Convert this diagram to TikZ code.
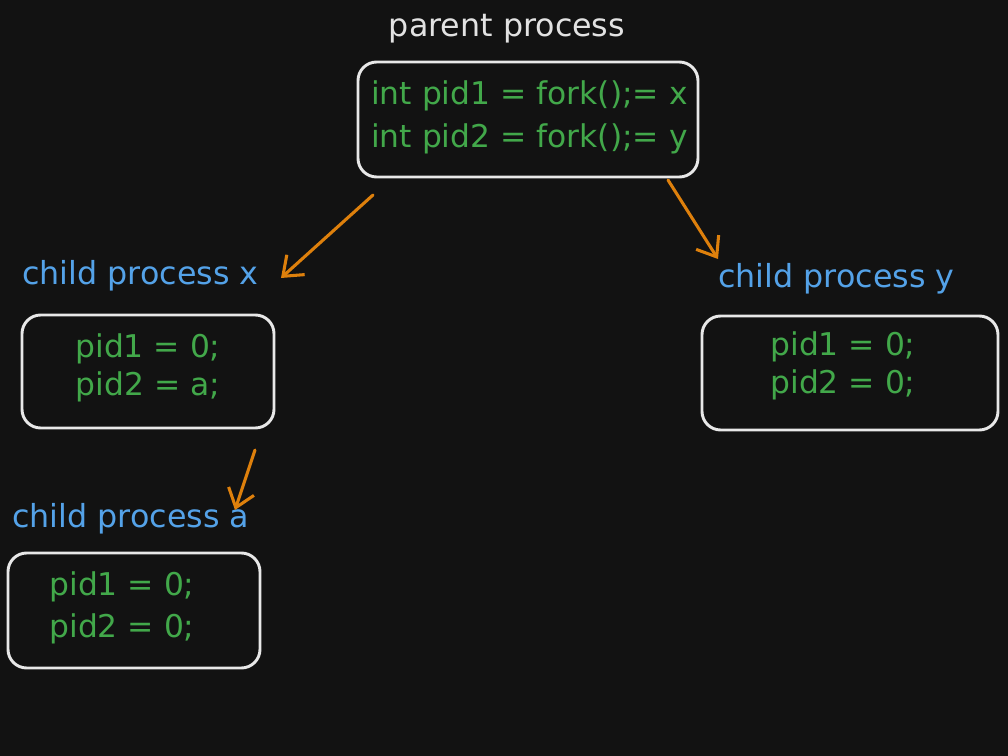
\documentclass[tikz,border=0pt]{standalone}
\usepackage{fontspec}
\setmainfont{DejaVu Sans}
\usetikzlibrary{arrows.meta}
\definecolor{bg}{RGB}{18,18,18}
\definecolor{codegreen}{RGB}{66,168,74}
\definecolor{labelblue}{RGB}{84,162,232}
\definecolor{arroworange}{RGB}{222,128,12}
\definecolor{boxline}{RGB}{232,232,232}
\definecolor{titlegray}{RGB}{226,226,226}
\tikzset{
  procbox/.style={draw=boxline, line width=2.2pt, rounded corners=14pt},
  code/.style={text=codegreen, font=\fontsize{23.5}{28}\selectfont, inner sep=0pt, align=center},
  label/.style={text=labelblue, font=\fontsize{23.8}{28}\selectfont, inner sep=0pt, anchor=base west},
  title/.style={text=titlegray, font=\fontsize{23.8}{28}\selectfont, inner sep=0pt, anchor=base},
  forkarrow/.style={draw=arroworange, line width=2.3pt, line cap=round, -{Straight Barb[length=13pt,width=20pt,line width=2.3pt]}}
}
\begin{document}
\begin{tikzpicture}[x=0.75pt,y=-0.75pt]
\fill[bg] (0,0) rectangle (1008,756);
\useasboundingbox (0,0) rectangle (1008,756);

% parent
\node[title] (ptitle) at (507,37) {parent process};
\draw[procbox] (358,62) rectangle (698,177);
\node[code, anchor=base west] (p1) at (371,105) {int pid1 = fork();= x};
\node[code, anchor=base west] (p2) at (371,148) {int pid2 = fork();= y};

% child x
\node[label] (lx) at (22,285) {child process x};
\draw[procbox] (22,315) rectangle (274,428);
\node[code] (x1) at (148,349) {pid1 = 0;};
\node[code] (x2) at (148,387) {pid2 = a;};

% child y
\node[label] (ly) at (718,288) {child process y};
\draw[procbox] (702,316) rectangle (998,430);
\node[code] (y1) at (843,347) {pid1 = 0;};
\node[code] (y2) at (843,385) {pid2 = 0;};

% child a
\node[label] (la) at (12,527) {child process a};
\draw[procbox] (8,553) rectangle (260,668);
\node[code] (a1) at (122,587) {pid1 = 0;};
\node[code] (a2) at (122,629) {pid2 = 0;};

% arrows
\coordinate (s1) at (373,195);
\coordinate (e1) at (281,278);
\coordinate (s2) at (668,180);
\coordinate (e2) at (718,259);
\coordinate (s3) at (255,450);
\coordinate (e3) at (235,510);
\draw[forkarrow] (s1) -- (e1);
\draw[forkarrow] (s2) -- (e2);
\draw[forkarrow] (s3) -- (e3);
\end{tikzpicture}
\end{document}
